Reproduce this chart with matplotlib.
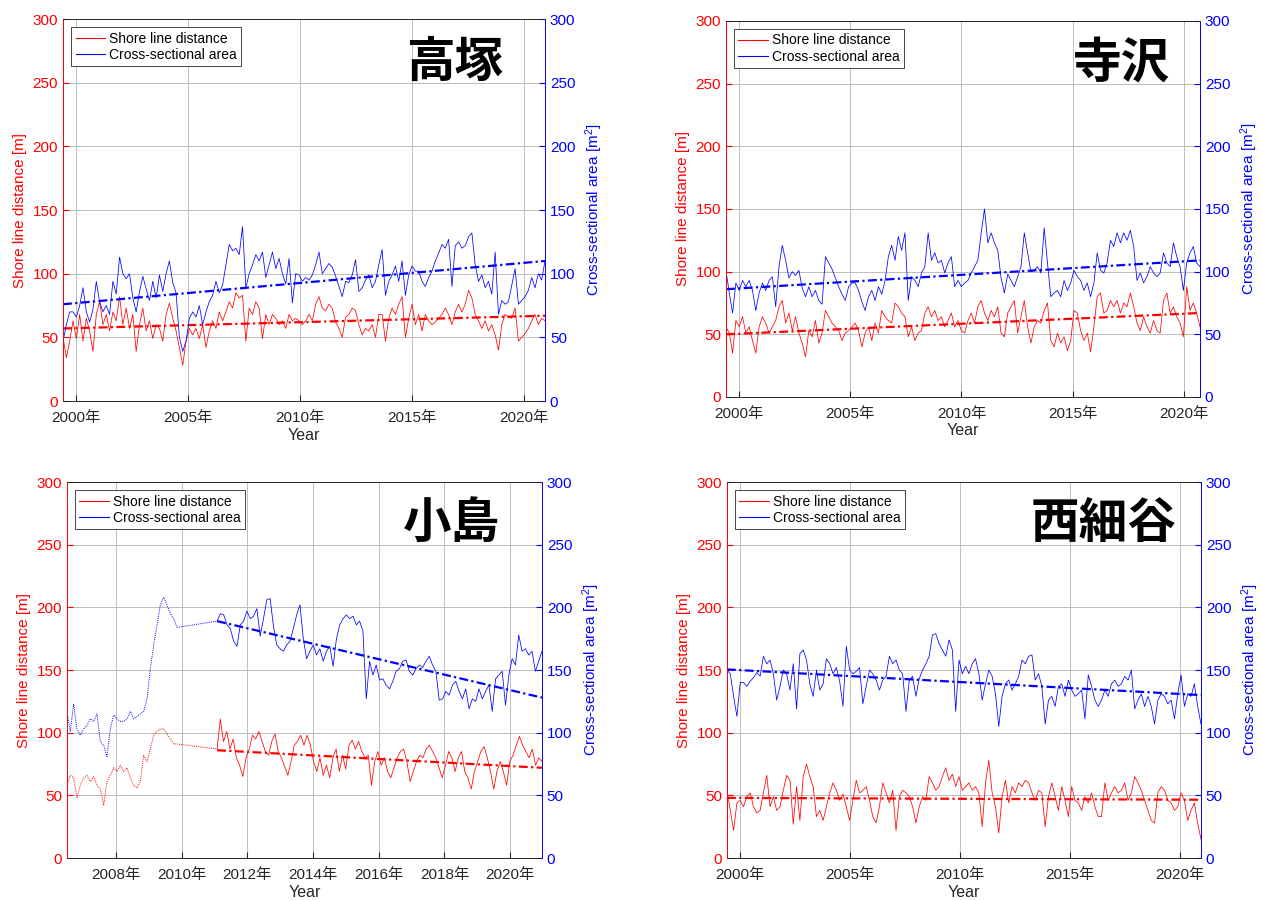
import numpy as np
import matplotlib
matplotlib.use("Agg")
import matplotlib.pyplot as plt
from matplotlib.lines import Line2D

plt.rcParams['font.family'] = ['Liberation Sans', 'Noto Sans CJK JP']
plt.rcParams['mathtext.fontset'] = 'custom'
plt.rcParams['mathtext.rm'] = 'Liberation Sans'
plt.rcParams['mathtext.it'] = 'Liberation Sans:italic'

# ---------------- data ----------------
# 高塚 : 1999.42 - 2020.94
takatsuka_span = (1999.42, 2020.94)
takatsuka_dist = [
    50, 34, 47, 63, 49, 68, 47, 65, 55, 39, 68, 78, 60, 68, 55, 70, 63, 82, 60, 73,
    57, 68, 39, 60, 73, 55, 63, 49, 60, 57, 47, 68, 77, 65, 55, 42, 28, 47, 57, 52,
    57, 49, 60, 42, 55, 63, 57, 70, 63, 70, 78, 73, 85, 81, 83, 47, 73, 68, 78, 73,
    49, 68, 60, 68, 65, 60, 63, 57, 68, 63, 65, 63, 60,
    63, 68, 63, 76, 82, 73, 71, 76, 73, 62, 57, 50, 66, 68, 73, 71, 60, 52, 57, 55,
    60, 50, 68, 68, 47, 65, 73, 68, 76, 82, 50, 65, 76, 60, 68, 55, 68, 63, 60, 62,
    65, 68, 73, 68, 60, 70, 76, 70, 76, 87, 81, 68, 63, 57, 63, 55, 60, 52, 40, 60,
    68, 66, 65, 73, 47, 50, 53, 57, 63, 68, 60, 65, 63]
takatsuka_area = [
    47, 60, 70, 70, 66, 75, 89, 70, 62, 72, 94, 78, 70, 75, 68, 94, 84, 113, 100, 96,
    100, 81, 70, 86, 98, 88, 79, 94, 81, 99, 86, 100, 110, 93, 85, 50, 39, 47, 65, 70,
    66, 75, 60, 70, 78, 83, 94, 85, 91, 107, 123, 118, 120, 115, 137, 89, 100, 107, 115, 110,
    117, 97, 107, 117, 104, 112, 100, 92, 112, 77, 100, 99, 94,
    97, 95, 99, 107, 117, 100, 104, 108, 105, 98, 90, 82, 94, 93, 99, 111, 86, 89, 95, 99,
    89, 94, 107, 119, 83, 94, 99, 106, 94, 110, 83, 99, 106, 102, 102, 94, 90, 97, 102, 110,
    116, 123, 120, 127, 90, 122, 125, 120, 122, 129, 132, 107, 94, 99, 89, 94, 84, 117, 68, 79,
    76, 78, 91, 104, 76, 79, 82, 87, 97, 89, 100, 95, 110]
takatsuka_trend_dist = [57, 67]
takatsuka_trend_area = [76, 110]

# 寺沢 : 1999.42 - 2020.72
terasawa_span = (1999.42, 2020.72)
terasawa_dist = [
    56, 51, 35, 61, 56, 64, 51, 56, 45, 35, 56, 64, 59, 51, 56, 61, 72, 77, 59, 67,
    53, 64, 51, 43, 32, 53, 48, 61, 43, 51, 69, 64, 59, 56, 53, 45, 51, 53, 56, 59,
    53, 40, 51, 56, 45, 59, 51, 69, 64, 61, 59, 75, 72, 67, 64, 48, 56, 45, 51, 53,
    67, 72, 64, 69, 61, 64, 56, 61, 67, 56, 61, 53,
    51, 61, 67, 59, 72, 77, 67, 61, 69, 64, 72, 51, 48, 67, 72, 77, 51, 64, 77, 56,
    43, 56, 61, 59, 69, 75, 45, 40, 51, 43, 48, 37, 45, 69, 67, 53, 45, 51, 36, 56,
    80, 83, 67, 69, 77, 72, 77, 67, 75, 72, 83, 72, 59, 53, 64, 56, 51, 61, 53, 51,
    77, 83, 67, 72, 64, 59, 48, 88, 69, 75, 67, 56]
terasawa_area = [
    101, 83, 67, 91, 85, 93, 88, 93, 85, 69, 83, 91, 85, 93, 96, 72, 104, 121, 109, 95,
    100, 97, 101, 87, 80, 88, 80, 85, 77, 74, 112, 107, 102, 95, 88, 82, 77, 88, 91, 91,
    85, 76, 69, 80, 85, 77, 88, 82, 93, 112, 121, 109, 128, 117, 131, 77, 96, 93, 88, 99,
    104, 131, 109, 115, 107, 109, 99, 107, 112, 88, 93, 88,
    91, 93, 99, 104, 109, 131, 150, 123, 131, 123, 117, 95, 83, 98, 93, 88, 96, 104, 131, 115,
    100, 101, 104, 99, 135, 107, 80, 83, 85, 80, 93, 85, 91, 101, 96, 93, 85, 91, 80, 91,
    115, 101, 99, 107, 125, 120, 131, 123, 131, 125, 133, 120, 93, 99, 91, 96, 104, 99, 96, 99,
    115, 107, 104, 123, 112, 104, 85, 107, 115, 120, 107, 104]
terasawa_trend_dist = [50, 67]
terasawa_trend_area = [86, 109]

# 小島 : dotted 2006.51 - 2009.86, solid 2011.08 - 2020.97
kojima_early_span = (2006.51, 2009.86)
kojima_span = (2011.08, 2020.97)
kojima_dist_early = [
    58, 66, 64, 48, 58, 64, 66, 61, 65, 58, 55, 42, 61, 66, 72, 69, 74, 69, 72, 64,
    58, 56, 61, 82, 77, 87, 98, 101, 103, 103, 99, 95, 91, 91]
kojima_area_early = [
    117, 101, 123, 103, 98, 103, 106, 111, 109, 115, 93, 90, 81, 103, 114, 111, 109, 109, 111, 117,
    111, 113, 115, 117, 127, 151, 170, 186, 202, 208, 202, 195, 191, 184]
kojima_dist = [
    87, 111, 93, 101, 87, 95, 80, 74, 65, 80, 87, 98, 95, 101, 93, 85, 82, 93, 99, 85,
    80, 73, 66, 77, 90, 93, 98, 90, 98, 90, 77,
    69, 80, 66, 74, 64, 80, 87, 69, 82, 71, 90, 94, 87, 93, 85, 80, 82, 58, 77, 85,
    74, 80, 69, 64, 72, 80, 85, 87, 77, 61, 69, 77, 82, 80, 87, 90, 85, 80, 72, 64,
    74, 85, 80, 69, 80, 85, 69, 64, 55, 69, 77, 85, 89, 80, 69, 55, 69, 77, 69, 58,
    77, 82, 90, 97, 90, 85, 80, 87, 74, 80, 77]
kojima_area = [
    189, 195, 194, 186, 183, 173, 169, 186, 189, 197, 191, 193, 199, 177, 191, 206, 207, 185, 170, 167,
    165, 170, 173, 183, 194, 202, 175, 159,
    165, 170, 162, 167, 157, 165, 169, 153, 175, 186, 191, 194, 191, 193, 186, 189, 181, 127, 157, 146,
    154, 142, 143, 138, 135, 141, 149, 151, 157, 158, 149, 146, 151, 154, 152, 157, 161, 154, 149, 126,
    127, 133, 130, 138, 141, 133, 127, 135, 119, 127, 125, 135, 127, 133, 138, 117, 143, 146, 149, 122,
    146, 159, 154, 178, 165, 167, 162, 165, 149, 157, 165]
kojima_trend_dist = [86, 72]
kojima_trend_area = [189, 128]

# 西細谷 : 1999.41 - 2020.95
nishihosoya_span = (1999.41, 2020.95)
nishihosoya_dist = [
    54, 38, 22, 44, 46, 41, 49, 52, 41, 36, 38, 52, 66, 41, 49, 38, 41, 54, 66, 62,
    27, 57, 30, 65, 75, 65, 57, 33, 38, 30, 41, 52, 60, 54, 46, 51, 41, 30, 46, 62,
    52, 54, 57, 46, 33, 28, 41, 60, 52, 44, 54, 22, 49, 54, 52, 49, 41, 28, 41, 49,
    46, 65, 60, 54, 57, 65, 72, 62, 67, 57, 65, 54,
    57, 60, 54, 57, 52, 25, 60, 78, 52, 41, 20, 49, 62, 44, 57, 52, 60, 57, 62, 60,
    52, 46, 54, 52, 25, 49, 60, 49, 38, 57, 46, 33, 57, 46, 44, 38, 49, 44, 52, 41,
    33, 33, 60, 46, 52, 57, 52, 54, 60, 46, 52, 65, 60, 54, 46, 38, 30, 28, 52, 57,
    54, 46, 44, 38, 41, 52, 46, 30, 38, 44, 28, 15]
nishihosoya_area = [
    150, 147, 129, 113, 140, 140, 137, 141, 144, 148, 145, 161, 155, 158, 147, 126, 137, 150, 147, 134,
    155, 119, 163, 166, 158, 139, 129, 150, 134, 139, 159, 155, 147, 152, 141, 121, 169, 150, 147, 149,
    152, 123, 137, 150, 147, 142, 134, 142, 145, 161, 155, 158, 150, 147, 117, 142, 145, 129, 143, 150,
    155, 161, 178, 179, 171, 166, 161, 174, 166, 117, 158, 147,
    153, 147, 155, 159, 147, 126, 139, 150, 145, 131, 105, 129, 139, 142, 134, 139, 145, 158, 155, 161,
    162, 142, 147, 137, 107, 126, 129, 121, 137, 139, 129, 142, 134, 129, 131, 134, 111, 146, 137, 126,
    121, 126, 134, 129, 139, 142, 137, 139, 145, 142, 150, 119, 126, 131, 121, 129, 121, 107, 126, 131,
    129, 123, 126, 111, 131, 146, 121, 131, 129, 139, 121, 107]
nishihosoya_trend_dist = [48, 46.5]
nishihosoya_trend_area = [150.5, 130]

year_ticks_5 = [2000, 2005, 2010, 2015, 2020]
year_ticks_2 = [2008, 2010, 2012, 2014, 2016, 2018, 2020]
y_ticks = [0, 50, 100, 150, 200, 250, 300]

RED = '#ff0000'
BLUE = '#0000ff'
AXIS_GRAY = '#262626'
TREND_LS = (0, (4, 1.5, 1, 1.5))


def draw_panel(fig, rect, name, name_pos, span, dist, area, trend_dist, trend_area,
               xlim, xticks, early=None):
    ax = fig.add_axes(rect)
    ax2 = ax.twinx()

    t_dist = np.linspace(span[0], span[1], len(dist))
    t_area = np.linspace(span[0], span[1], len(area))

    # dotted early record (小島 only), joined to the first solid point
    if early is not None:
        e_span, e_dist, e_area = early
        te_d = np.append(np.linspace(e_span[0], e_span[1], len(e_dist)), t_dist[0])
        te_a = np.append(np.linspace(e_span[0], e_span[1], len(e_area)), t_area[0])
        ax.plot(te_d, list(e_dist) + [dist[0]], color=RED, lw=0.7, ls=(0, (1, 1.2)))
        ax2.plot(te_a, list(e_area) + [area[0]], color=BLUE, lw=0.7, ls=(0, (1, 1.2)))

    ax.plot(t_dist, dist, color=RED, lw=0.55)
    ax.plot(span, trend_dist, color=RED, lw=1.6, ls=TREND_LS)
    ax2.plot(t_area, area, color=BLUE, lw=0.55)
    ax2.plot(span, trend_area, color=BLUE, lw=1.6, ls=TREND_LS)

    for a in (ax, ax2):
        a.set_xlim(*xlim)
        a.set_ylim(0, 300)
        a.set_yticks(y_ticks)
        for side in ('top', 'bottom'):
            a.spines[side].set_color(AXIS_GRAY)
            a.spines[side].set_linewidth(0.6)
        a.spines['left'].set_color(RED)
        a.spines['right'].set_color(BLUE)
        a.spines['left'].set_linewidth(0.6)
        a.spines['right'].set_linewidth(0.6)

    ax.set_xticks(xticks)
    ax.set_xticklabels([f'{y}年' for y in xticks])
    ax.grid(True, color='#bdbdbd', lw=0.7)
    ax.tick_params(axis='x', colors=AXIS_GRAY, direction='in', length=4, labelsize=11, pad=7)
    ax.tick_params(axis='y', colors=RED, direction='in', length=4, labelsize=11)
    ax2.tick_params(axis='y', colors=BLUE, direction='in', length=4, labelsize=11)

    ax.set_xlabel('Year', fontsize=11.5, color=AXIS_GRAY, labelpad=2)
    ax.set_ylabel('Shore line distance [m]', fontsize=11, color=RED, labelpad=4)
    ax2.set_ylabel('Cross-sectional area [m$^2$]', fontsize=11, color=BLUE, labelpad=6)

    handles = [Line2D([], [], color=RED, lw=0.8), Line2D([], [], color=BLUE, lw=0.8)]
    leg = ax2.legend(handles, ['Shore line distance', 'Cross-sectional area'],
                     loc='upper left', fontsize=10, fancybox=False, framealpha=1,
                     edgecolor=AXIS_GRAY, borderpad=0.3, labelspacing=0.15,
                     handlelength=2.1, handletextpad=0.3, borderaxespad=0.6)
    leg.get_frame().set_linewidth(0.6)

    ax2.text(name_pos[0], name_pos[1], name, transform=ax2.transAxes,
             ha='right', va='center', fontsize=35, fontweight='bold',
             family=['Noto Sans CJK JP'], color='black')
    return ax, ax2


fig = plt.figure(figsize=(12.61, 9.01), dpi=100)

draw_panel(fig, [0.0500, 0.5549, 0.3822, 0.4240], '高塚', (0.913, 0.887),
           takatsuka_span, takatsuka_dist, takatsuka_area,
           takatsuka_trend_dist, takatsuka_trend_area,
           (1999.42, 2020.94), year_ticks_5)

draw_panel(fig, [0.5757, 0.5594, 0.3759, 0.4173], '寺沢', (0.937, 0.888),
           terasawa_span, terasawa_dist, terasawa_area,
           terasawa_trend_dist, terasawa_trend_area,
           (1999.42, 2020.72), year_ticks_5)

draw_panel(fig, [0.0531, 0.0477, 0.3767, 0.4173], '小島', (0.912, 0.891),
           kojima_span, kojima_dist, kojima_area,
           kojima_trend_dist, kojima_trend_area,
           (2006.51, 2020.97), year_ticks_2,
           early=(kojima_early_span, kojima_dist_early, kojima_area_early))

draw_panel(fig, [0.5765, 0.0477, 0.3759, 0.4173], '西細谷', (0.949, 0.891),
           nishihosoya_span, nishihosoya_dist, nishihosoya_area,
           nishihosoya_trend_dist, nishihosoya_trend_area,
           (1999.41, 2020.95), year_ticks_5)

fig.savefig('out.png', dpi=100, facecolor='white')
